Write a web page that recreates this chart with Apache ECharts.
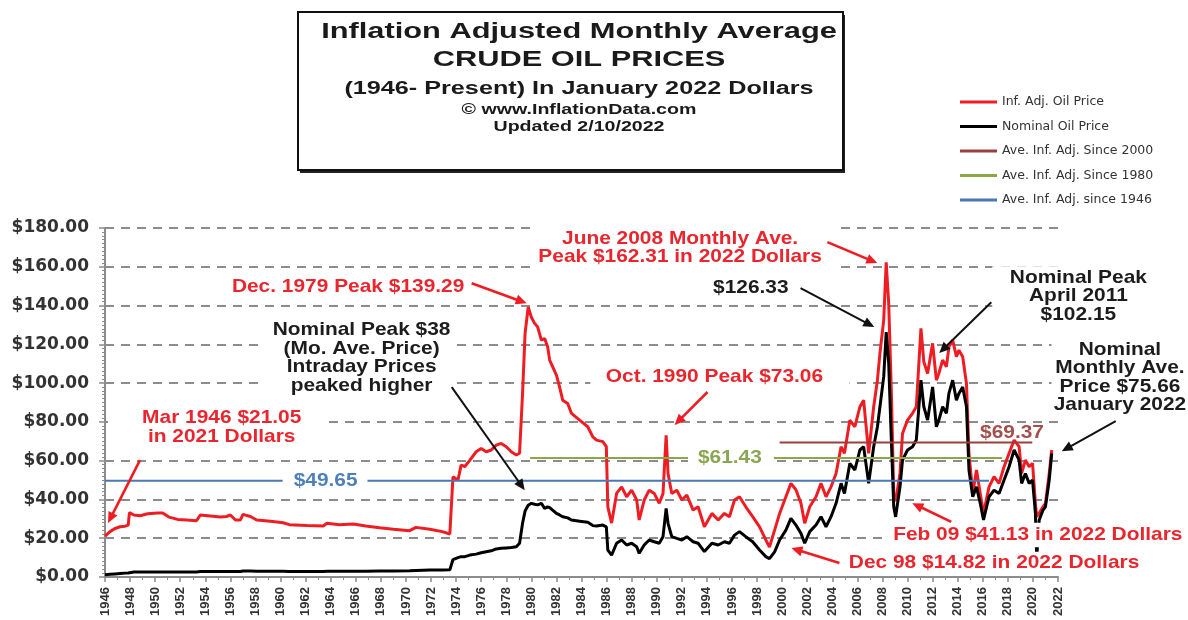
<!DOCTYPE html>
<html>
<head>
<meta charset="UTF-8">
<title>Inflation Adjusted Monthly Average Crude Oil Prices</title>
<script src="https://cdn.jsdelivr.net/npm/echarts@6.0.0/dist/echarts.min.js"></script>
<style>
    html, body { margin: 0; padding: 0; background: #fff; }
    #chart { width: 1188px; height: 620px; }
</style>
</head>
<body>
<div id="chart"></div>
<script>
// time in fractional years
const years = [
    1946.0, 1946.4, 1946.8, 1947.2, 1947.6, 1947.85, 1947.95, 1948.3, 1948.8, 1949.4,
    1950.2, 1950.6, 1951.1, 1951.8, 1952.5, 1953.3, 1953.6, 1954.4, 1955.2, 1955.7,
    1956.0, 1956.4, 1956.8, 1957.0, 1957.6, 1958.1, 1959.2, 1960.2, 1960.7, 1962.1,
    1963.4, 1963.7, 1964.7, 1965.8, 1966.8, 1967.9, 1969.0, 1970.3, 1970.8, 1971.9,
    1972.9, 1973.5, 1973.75, 1974.15, 1974.4, 1974.7, 1975.1, 1975.6, 1976.0, 1976.4,
    1976.8, 1977.2, 1977.6, 1978.0, 1978.4, 1978.8, 1979.06, 1979.3, 1979.5, 1979.75,
    1980.0, 1980.26, 1980.5, 1980.8, 1981.06, 1981.3, 1981.46, 1982.0, 1982.25, 1982.5,
    1982.9, 1983.2, 1983.85, 1984.5, 1984.9, 1985.2, 1985.7, 1985.98, 1986.1, 1986.4,
    1986.8, 1987.2, 1987.6, 1988.0, 1988.4, 1988.6, 1989.0, 1989.4, 1989.8, 1990.2,
    1990.5, 1990.75, 1990.9, 1991.2, 1991.6, 1992.0, 1992.4, 1992.9, 1993.3, 1993.8,
    1994.4, 1994.9, 1995.4, 1995.8, 1996.2, 1996.6, 1997.1, 1997.65, 1998.2, 1998.7,
    1998.99, 1999.4, 1999.8, 2000.3, 2000.7, 2001.1, 2001.5, 2001.8, 2002.2, 2002.7,
    2003.1, 2003.5, 2003.9, 2004.3, 2004.7, 2004.97, 2005.4, 2005.8, 2006.2, 2006.5,
    2006.9, 2007.3, 2007.6, 2007.8, 2008.1, 2008.3, 2008.5, 2008.7, 2008.9, 2009.05,
    2009.4, 2009.6, 2010.0, 2010.4, 2010.7, 2011.07, 2011.3, 2011.6, 2012.0, 2012.3,
    2012.5, 2012.8, 2013.1, 2013.3, 2013.6, 2013.9, 2014.1, 2014.4, 2014.7, 2014.9,
    2015.2, 2015.5, 2015.8, 2016.06, 2016.5, 2016.9, 2017.3, 2017.7, 2018.1, 2018.5,
    2018.9, 2019.1, 2019.4, 2019.7, 2019.97, 2020.2, 2020.3, 2020.5, 2020.8, 2021.0,
    2021.3, 2021.5
];

// inflation adjusted price (January 2022 dollars)
const realPrice = [
    21.05, 23.4, 25.0, 25.9, 26.2, 26.8, 33.2, 32.0, 31.6, 32.6,
    33.0, 33.0, 30.9, 29.7, 29.4, 29.0, 32.0, 31.5, 30.9, 31.2,
    32.0, 29.4, 29.4, 32.3, 31.2, 29.4, 28.7, 28.0, 27.0, 26.6,
    26.3, 27.7, 27.0, 27.3, 26.3, 25.4, 24.6, 23.9, 25.6, 24.6,
    23.4, 22.2, 51.7, 50.0, 57.7, 57.0, 60.3, 64.6, 66.3, 64.6,
    65.5, 68.0, 68.9, 67.2, 64.6, 62.9, 63.8, 94.7, 125.6, 139.29,
    134.0, 130.8, 129.0, 122.2, 123.0, 118.7, 111.9, 104.1, 98.1, 91.2,
    89.5, 84.4, 80.9, 77.5, 72.3, 70.6, 69.8, 67.2, 36.2, 27.8,
    43.1, 46.5, 41.4, 44.8, 39.7, 29.4, 39.7, 44.8, 43.1, 38.0,
    43.0, 73.06, 53.4, 43.1, 44.8, 39.7, 42.2, 34.5, 36.2, 25.9,
    32.8, 29.4, 32.8, 31.1, 39.7, 41.4, 36.2, 31.1, 25.9, 19.1,
    15.5, 24.2, 32.8, 41.4, 48.3, 45.0, 38.0, 27.7, 36.2, 41.4,
    48.3, 41.4, 46.5, 53.4, 67.2, 63.8, 80.9, 77.5, 87.8, 91.2,
    63.8, 87.8, 101.5, 115.3, 132.5, 162.31, 141.0, 98.0, 43.1, 39.0,
    53.4, 74.0, 80.9, 84.4, 87.8, 128.2, 111.0, 105.0, 120.5, 101.5,
    105.0, 111.9, 108.4, 118.7, 122.2, 113.6, 117.0, 113.6, 99.8, 63.8,
    43.1, 55.2, 43.1, 32.8, 46.5, 51.7, 48.3, 56.9, 63.8, 70.6,
    67.2, 53.4, 60.3, 56.9, 58.6, 38.0, 31.1, 33.0, 36.2, 38.0,
    53.4, 65.5
];

// nominal price
const nominalPrice = [
    1.2, 1.4, 1.6, 1.8, 2.0, 2.1, 2.5, 2.6, 2.6, 2.6,
    2.6, 2.6, 2.6, 2.6, 2.6, 2.6, 2.8, 2.8, 2.8, 2.8,
    2.9, 2.8, 2.8, 3.1, 3.1, 3.0, 3.0, 3.0, 2.9, 2.9,
    2.9, 3.0, 3.0, 3.0, 3.0, 3.1, 3.1, 3.2, 3.4, 3.6,
    3.6, 3.7, 9.0, 10.0, 10.5, 10.5, 11.3, 11.8, 12.5, 13.0,
    13.5, 14.5, 14.8, 15.0, 15.2, 15.6, 17.4, 27.7, 34.0, 37.0,
    38.0, 37.5, 37.2, 38.0, 35.4, 36.2, 35.8, 32.8, 32.0, 31.1,
    30.5, 29.4, 28.8, 28.2, 26.5, 26.3, 26.8, 25.9, 13.9, 11.3,
    17.4, 19.1, 16.5, 17.4, 15.6, 12.2, 16.5, 19.1, 18.2, 17.4,
    20.8, 35.4, 27.7, 20.8, 19.9, 19.1, 20.8, 18.2, 17.4, 13.1,
    17.4, 16.5, 18.2, 17.4, 21.6, 23.4, 20.8, 18.2, 13.9, 10.5,
    9.5, 13.0, 19.1, 24.2, 30.2, 26.8, 22.5, 17.4, 23.4, 26.8,
    31.1, 25.9, 31.1, 38.0, 48.3, 43.1, 58.6, 55.2, 65.5, 67.2,
    48.3, 67.2, 77.5, 87.8, 103.2, 126.33, 110.0, 72.3, 36.2, 31.0,
    46.5, 60.3, 65.5, 67.2, 70.6, 101.5, 87.8, 80.9, 98.0, 77.5,
    80.9, 87.8, 84.4, 94.7, 101.5, 91.2, 94.7, 98.0, 87.8, 55.2,
    41.4, 46.5, 38.0, 29.4, 41.4, 44.8, 43.1, 50.0, 56.9, 65.5,
    60.3, 48.3, 53.4, 48.3, 50.0, 32.8, 10.0, 29.4, 34.5, 36.2,
    50.0, 63.8
];

// long run averages (level, first year, last year drawn)
const avgNames = ['Ave. Inf. Adj. Since 2000', 'Ave. Inf. Adj. Since 1980', 'Ave. Inf. Adj. since 1946'];
const avgValues = [69.37, 61.43, 49.65];
const avgStart = [1999.8, 1979.9, 1946.0];
const avgEnd = [2019.95, 2017.55, 2016.5];
const avgColors = ['#9a3f3d', '#8aa748', '#4a78b5'];

const RED = '#ee1d23';
const TEXT_RED = '#e9262e';

const titleLines = [
    { text: 'Inflation Adjusted Monthly Average', y: 32, size: 22 },
    { text: 'CRUDE OIL PRICES', y: 60, size: 22 },
    { text: '(1946- Present) In January 2022 Dollars', y: 89, size: 18 },
    { text: '\u00a9 www.InflationData.com', y: 110, size: 14 },
    { text: 'Updated 2/10/2022', y: 127, size: 14 }
];

// notes: anchor in [year, price] of the block centre
const notes = [
    { text: 'Mar 1946 $21.05\nin 2021 Dollars', at: [1955.0, 77.1], color: TEXT_RED, pad: [4, 24, 4, 31] },
    { text: 'Dec. 1979 Peak $139.29', at: [1965.3, 149.6], color: TEXT_RED, pad: [3, 10, 12, 12] },
    { text: 'Nominal Peak $38\n(Mo. Ave. Price)\nIntraday Prices\npeaked higher', at: [1966.33, 113.2], color: '#1c1c1c', pad: [2, 4, 2, 7] },
    { text: 'Oct. 1990 Peak $73.06', at: [1995.04, 103.1], color: TEXT_RED, pad: [3, 24, 3, 14] },
    { text: 'June 2008 Monthly Ave.\nPeak $162.31 in 2022 Dollars', at: [1992.17, 169.7], color: TEXT_RED, pad: [6, 11, 0, 4] },
    { text: '$126.33', at: [1997.5, 149.05], color: '#1c1c1c', pad: [2, 3, 2, 3] },
    { text: 'Nominal Peak\nApril 2011\n$102.15', at: [2023.1, 144.9], color: '#1c1c1c', pad: [2, 4, 2, 16] },
    { text: 'Nominal\nMonthly Ave.\nPrice $75.66\nJanuary 2022', at: [2026.94, 102.9], color: '#1c1c1c', pad: [2, 2, 2, 2] },
    { text: 'Feb 09 $41.13 in 2022 Dollars', at: [2020.08, 21.7], color: TEXT_RED, pad: [3, 2, 3, 9] },
    { text: 'Dec 98 $14.82 in 2022 Dollars', at: [2016.9, 7.2], color: TEXT_RED, pad: [2, 2, 2, 2] }
];

const levelLabels = [
    { text: '$49.65', at: [1963.55, 49.65], color: '#4f80bd', pad: [2, 9, 2, 10], bg: true },
    { text: '$61.43', at: [1995.92, 61.43], color: '#8aa652', pad: [2, 11, 2, 9], bg: true },
    { text: '$69.37', at: [2018.33, 74.3], color: '#a3504c', pad: 0, bg: false }
];

const arrows = [
    { from: [1948.79, 60.3], to: [1946.24, 27.8], color: RED },
    { from: [1975.24, 151.5], to: [1979.63, 141.2], color: RED },
    { from: [1973.65, 97.9], to: [1979.47, 44.8], color: '#111' },
    { from: [1994.05, 95.4], to: [1991.42, 78.4], color: RED },
    { from: [2003.61, 172.7], to: [2007.59, 161.9], color: RED },
    { from: [2001.47, 149.0], to: [2007.35, 128.9], color: '#111' },
    { from: [2016.68, 141.75], to: [2012.53, 115.5], color: '#111' },
    { from: [2026.6, 80.4], to: [2022.3, 64.9], color: '#111' },
    { from: [2013.49, 28.4], to: [2010.38, 38.1], color: RED },
    { from: [2004.57, 7.2], to: [2000.74, 14.9], color: RED }
];

const chart = echarts.init(document.getElementById('chart'));

const series = [
    {
        name: 'Inf. Adj. Oil Price',
        type: 'line',
        symbol: 'none',
        color: RED,
        lineStyle: { width: 3, color: RED },
        data: years.map((y, i) => [y, realPrice[i]]),
        z: 3
    },
    {
        name: 'Nominal Oil Price',
        type: 'line',
        symbol: 'none',
        color: '#000',
        lineStyle: { width: 3, color: '#000' },
        data: years.map((y, i) => [y, nominalPrice[i]]),
        z: 4
    }
];
avgNames.forEach((name, i) => {
    series.push({
        name: name,
        type: 'line',
        symbol: 'none',
        color: avgColors[i],
        lineStyle: { width: 2, color: avgColors[i] },
        data: [[avgStart[i], avgValues[i]], [avgEnd[i], avgValues[i]]],
        z: 5
    });
});

chart.setOption({
    animation: false,
    backgroundColor: '#fff',
    grid: { left: 105, right: 130, top: 228, bottom: 43 },
    legend: {
        orient: 'vertical',
        left: 955,
        top: 90,
        icon: 'rect',
        itemWidth: 37,
        itemHeight: 3,
        itemGap: 10.5,
        textStyle: { fontFamily: 'DejaVu Sans', fontSize: 12.5, lineHeight: 14, color: '#333' },
        data: ['Inf. Adj. Oil Price', 'Nominal Oil Price'].concat(avgNames)
    },
    xAxis: {
        type: 'value',
        min: 1946,
        max: 2022,
        interval: 2,
        axisLine: { lineStyle: { color: '#8c8c8c', width: 2 } },
        axisTick: { show: true, length: 5, lineStyle: { color: '#8c8c8c', width: 1.5 } },
        minorTick: { show: true, splitNumber: 2, length: 3, lineStyle: { color: '#8c8c8c' } },
        splitLine: { show: false },
        axisLabel: {
            rotate: 90,
            margin: 10,
            fontFamily: 'Liberation Sans',
            fontWeight: 'bold',
            fontSize: 13,
            color: '#333',
            formatter: v => String(v)
        }
    },
    yAxis: {
        type: 'value',
        min: 0,
        max: 180,
        interval: 20,
        axisLine: { show: true, lineStyle: { color: '#8c8c8c', width: 2 } },
        axisTick: { show: true, length: 6, lineStyle: { color: '#8c8c8c', width: 1.5 } },
        minorTick: { show: true, splitNumber: 10, length: 3, lineStyle: { color: '#8c8c8c' } },
        splitLine: { show: true, lineStyle: { color: '#8c8c8c', width: 2, type: [9, 7] } },
        axisLabel: {
            margin: 16,
            fontFamily: 'DejaVu Sans',
            fontWeight: 'bold',
            fontSize: 17,
            color: '#333',
            formatter: v => '$' + v.toFixed(2)
        }
    },
    series: series
});

function toPx(p) {
    return chart.convertToPixel({ gridIndex: 0 }, p);
}

const gfx = [];

// title box with a solid drop edge
gfx.push({
    type: 'rect',
    z: 99,
    silent: true,
    shape: { x: 300, y: 15, width: 545, height: 158 },
    style: { fill: '#222' }
});
gfx.push({
    type: 'rect',
    z: 100,
    silent: true,
    shape: { x: 298, y: 12, width: 545, height: 158 },
    style: { fill: '#fff', stroke: '#111', lineWidth: 2 }
});
titleLines.forEach(t => {
    gfx.push({
        type: 'text',
        z: 101,
        silent: true,
        x: 579,
        y: t.y,
        scaleX: 1.4,
        style: {
            text: t.text,
            fontFamily: 'Liberation Sans',
            fontWeight: 'bold',
            fontSize: t.size,
            fill: '#1a1a1a',
            align: 'center',
            verticalAlign: 'middle'
        }
    });
});

notes.forEach(n => {
    const p = toPx(n.at);
    gfx.push({
        type: 'text',
        z: 110,
        silent: true,
        x: p[0],
        y: p[1],
        scaleX: 1.1,
        style: {
            text: n.text,
            fontFamily: 'Liberation Sans',
            fontWeight: 'bold',
            fontSize: 19,
            lineHeight: 18.5,
            fill: n.color,
            align: 'center',
            verticalAlign: 'middle',
            backgroundColor: '#fff',
            padding: n.pad
        }
    });
});

levelLabels.forEach(n => {
    const p = toPx(n.at);
    gfx.push({
        type: 'text',
        z: 110,
        silent: true,
        x: p[0],
        y: p[1],
        scaleX: 1.1,
        style: {
            text: n.text,
            fontFamily: 'Liberation Sans',
            fontWeight: 'bold',
            fontSize: 19,
            fill: n.color,
            align: 'center',
            verticalAlign: 'middle',
            backgroundColor: n.bg ? '#fff' : null,
            padding: n.pad
        }
    });
});

arrows.forEach(a => {
    const p = toPx(a.from);
    const q = toPx(a.to);
    const dx = q[0] - p[0], dy = q[1] - p[1];
    const len = Math.hypot(dx, dy);
    const ux = dx / len, uy = dy / len;
    const hl = 11, hw = 5;
    const bx = q[0] - ux * hl, by = q[1] - uy * hl;
    const w = a.color === RED ? 2.6 : 2;
    gfx.push({
        type: 'line',
        z: 120,
        silent: true,
        shape: { x1: p[0], y1: p[1], x2: bx + ux * 2, y2: by + uy * 2 },
        style: { stroke: a.color, lineWidth: w }
    });
    gfx.push({
        type: 'polygon',
        z: 120,
        silent: true,
        shape: { points: [[q[0], q[1]], [bx - uy * hw, by + ux * hw], [bx + uy * hw, by - ux * hw]] },
        style: { fill: a.color }
    });
});

chart.setOption({ graphic: gfx });
</script>
</body>
</html>
